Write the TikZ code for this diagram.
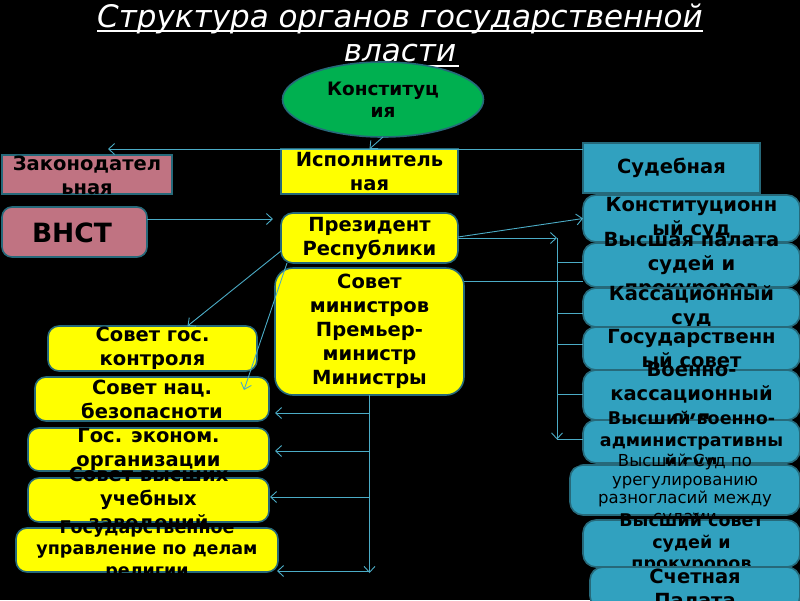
\documentclass[tikz,border=0pt]{standalone}
\usepackage{fontspec}
\setmainfont{DejaVu Sans}
\usetikzlibrary{arrows.meta,calc,shapes.geometric}
\definecolor{linkc}{RGB}{75,172,198}
\definecolor{edgec}{RGB}{38,105,122}
\definecolor{yel}{RGB}{255,255,0}
\definecolor{rose}{RGB}{192,115,130}
\definecolor{sea}{RGB}{49,161,191}
\definecolor{grn}{RGB}{0,176,80}
\begin{document}
\begin{tikzpicture}[x=1pt,y=-1pt,
  box/.style={draw=edgec, line width=1.6pt, inner sep=0pt, outer sep=0pt},
  ybox/.style={box, fill=yel, rounded corners=11pt},
  sbox/.style={box, fill=sea, rounded corners=13pt},
  pbox/.style={box, fill=rose},
  txtb/.style={inner sep=0pt, align=center, text=black},
  mtxt/.style={txtb, font=\fontsize{19.5}{24}\selectfont\bfseries},
  stxt/.style={txtb, font=\fontsize{17.5}{21.5}\selectfont\bfseries},
  rtxt/.style={txtb, font=\fontsize{16.5}{18.5}\selectfont},
  ttl/.style={inner sep=0pt, anchor=base, text=white, font=\fontsize{31}{36}\selectfont\itshape},
  ln/.style={draw=linkc, line width=0.9pt},
  lnk/.style={ln, -{Straight Barb[length=6pt,width=11pt]}}
]
\useasboundingbox (0,0) rectangle (800,600);
\fill[black] (0,0) rectangle (800,600);
\clip (0,0) rectangle (800,600);

% title
\node[ttl] (t1) at (400,27) {Структура органов государственной};
\node[ttl] (t2) at (400,61) {власти};
\draw[white, line width=1.8pt] ($(t1.base west)+(0,4)$) -- ($(t1.base east)+(0,4)$);
\draw[white, line width=1.8pt] ($(t2.base west)+(0,5)$) -- ($(t2.base east)+(3,5)$);

% constitution
\node[box, ellipse, fill=grn, minimum width=201, minimum height=75] (const) at (383,99.5) {};
\node[mtxt, font=\fontsize{18.5}{22}\selectfont\bfseries] (constt) at (const) {Конституц\\ия};

% legislative
\node[pbox, minimum width=170, minimum height=39] (law) at (87,174.5) {};
\node[mtxt] (lawt) at (87,175.5) {Законодател\\ьная};
\node[pbox, rounded corners=10pt, minimum width=145, minimum height=50] (vnst) at (74.5,232) {};
\node[txtb, font=\fontsize{26.5}{30}\selectfont\bfseries] (vnstt) at (72,233) {ВНСТ};

% executive
\node[box, fill=yel, minimum width=177, minimum height=45] (exec) at (369.5,171.5) {};
\node[mtxt] (exect) at (exec) {Исполнитель\\ная};
\node[ybox, rounded corners=12pt, minimum width=177, minimum height=50] (pres) at (369.5,238) {};
\node[mtxt] (prest) at (pres) {Президент\\Республики};
\node[ybox, rounded corners=18pt, minimum width=189, minimum height=127] (sm) at (369.5,331.5) {};
\node[mtxt] (smt) at (sm) {Совет\\министров\\Премьер-\\министр\\Министры};

% left column
\node[ybox, minimum width=209, minimum height=45] (g1) at (152.5,348.5) {};
\node[mtxt] (g1t) at (g1) {Совет гос.\\контроля};
\node[ybox, minimum width=234, minimum height=44] (g2) at (152,399) {};
\node[mtxt] (g2t) at (g2) {Совет нац.\\безопасноти};
\node[ybox, minimum width=241, minimum height=43] (g3) at (148.5,449.5) {};
\node[mtxt] (g3t) at (g3) {Гос. эконом.\\организации};
\node[ybox, minimum width=241, minimum height=44] (g4) at (148.5,500) {};
\node[mtxt] (g4t) at (g4) {Совет высших\\учебных\\заведений};
\node[ybox, minimum width=262, minimum height=44] (g5) at (147,550) {};
\node[stxt] (g5t) at (g5) {Государственное\\управление по делам\\религии};

% judicial
\node[box, fill=sea, minimum width=177, minimum height=50] (sud) at (671.5,168) {};
\node[mtxt] (sudt) at (sud) {Судебная};
\node[sbox, minimum width=217, minimum height=47] (j1) at (691.5,218.5) {};
\node[mtxt] (j1t) at (j1) {Конституционн\\ый суд};
\node[sbox, minimum width=217, minimum height=44] (j2) at (691.5,265) {};
\node[mtxt] (j2t) at (j2) {Высшая палата\\судей и\\прокуроров};
\node[sbox, minimum width=217, minimum height=39] (j3) at (691.5,307.5) {};
\node[mtxt] (j3t) at (j3) {Кассационный\\суд};
\node[sbox, minimum width=217, minimum height=43] (j4) at (691.5,348.5) {};
\node[mtxt] (j4t) at (j4) {Государственн\\ый совет};
\node[sbox, minimum width=217, minimum height=50] (j5) at (691.5,395) {};
\node[mtxt] (j5t) at (j5) {Военно-\\кассационный\\суд};
\node[sbox, minimum width=217, minimum height=43] (j6) at (691.5,441.5) {};
\node[stxt] (j6t) at (j6) {Высший военно-\\административны\\й суд};
\node[sbox, minimum width=230, minimum height=50] (j7) at (685,490) {};
\node[rtxt] (j7t) at (j7) {Высший Суд по\\урегулированию\\разногласий между\\судами};
\node[sbox, minimum width=217, minimum height=47] (j8) at (691.5,543.5) {};
\node[stxt] (j8t) at (j8) {Высший совет\\судей и\\прокуроров};
\node[sbox, minimum width=210, minimum height=42] (j9) at (695,588) {};
\node[mtxt] (j9t) at (j9) {Счетная\\Палата};

% small black tips on the judicial column
\foreach \yy in {243,288,327,370,420,520,567} {
  \fill[black] (583,\yy-3) -- (591,\yy) -- (583,\yy+3) -- cycle;
  \fill[black] (800,\yy-3) -- (792,\yy) -- (800,\yy+3) -- cycle;
}
\fill[black] (572,462) -- (580,465) -- (572,468) -- cycle;
\fill[black] (800,462) -- (792,465) -- (800,468) -- cycle;

% connectors
\draw[lnk] (const.south) -- (exec.north);
\coordinate (lawtip) at ($(law.north)+(21,-6)$);
\draw[lnk] (sud.west |- lawtip) -- (lawtip);
\coordinate (vtip) at ($(pres.west)+(-8,-19)$);
\draw[lnk] (vnst.east |- vtip) -- (vtip);

\coordinate (p1) at ($(pres.south west)+(0,-12)$);
\coordinate (g1a) at ($(g1.north)+(35,0)$);
\draw[lnk] (p1) -- (g1a);
\coordinate (p2) at ($(pres.south west)+(6,0)$);
\coordinate (g2a) at ($(g2.north)+(92,13)$);
\draw[lnk] (p2) -- (g2a);

\draw[lnk] ($(pres.east)+(0,-1)$) -- (j1.west);
\coordinate (jv) at ($(pres.east -| j1.west)+(-26,0)$);
\draw[lnk] (pres.east) -- (jv);
\coordinate (b2) at ($(j2.west)+(0,-3)$);
\coordinate (b3) at ($(j3.west)+(0,5.5)$);
\coordinate (b4) at ($(j4.west)+(0,-4.5)$);
\coordinate (b5) at ($(j5.west)+(0,-1)$);
\coordinate (b6) at ($(j6.west)+(0,-2)$);
\draw[lnk] (jv) -- (jv |- b6);
\foreach \b in {b2,b3,b4,b5,b6} { \draw[ln] (jv |- \b) -- (\b); }

\coordinate (smr) at ($(sm.north east)+(0,13)$);
\draw[ln] (smr) -- (smr -| j2.west);

\coordinate (mend) at ($(sm.south |- g5.south)+(0,1)$);
\draw[lnk] (sm.south) -- (mend);
\coordinate (c2) at ($(g2.east)+(6,14)$);
\coordinate (c3) at ($(g3.east)+(6,1.5)$);
\coordinate (c4) at ($(g4.east)+(1,-3)$);
\coordinate (c5) at ($(g5.east)+(-1,21)$);
\foreach \c in {c2,c3,c4,c5} { \draw[lnk] (sm.south |- \c) -- (\c); }
\end{tikzpicture}
\end{document}
